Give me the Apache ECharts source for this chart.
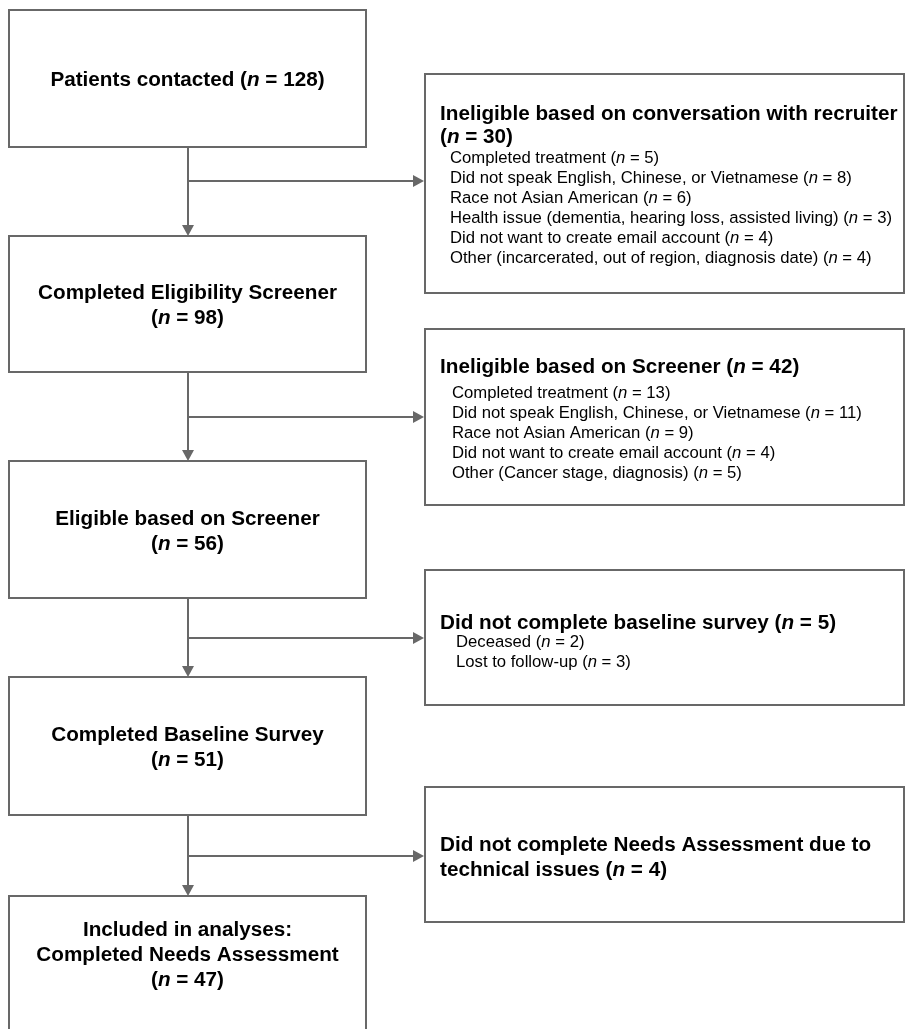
<!DOCTYPE html>
<html>
<head>
<meta charset="utf-8">
<script src="https://cdn.jsdelivr.net/npm/echarts@6/dist/echarts.min.js"></script>
<style>
html, body { margin: 0; background: #fff; }
#flow { width: 905px; height: 1029px; }
</style>
</head>
<body>
<div id="flow"></div>
<script>
// main flow (left column)
const stageLabels = [
  ['Patients contacted'],
  ['Completed Eligibility Screener'],
  ['Eligible based on Screener'],
  ['Completed Baseline Survey'],
  ['Included in analyses:', 'Completed Needs Assessment']
];
const stageCounts = [128, 98, 56, 51, 47];

// exclusions (right column)
const exitLabels = [
  ['Ineligible based on conversation with recruiter'],
  ['Ineligible based on Screener'],
  ['Did not complete baseline survey'],
  ['Did not complete Needs Assessment due to', 'technical issues']
];
const exitCounts = [30, 42, 5, 4];
const exitReasons = [
  ['Completed treatment', 'Did not speak English, Chinese, or Vietnamese', 'Race not Asian American',
   'Health issue (dementia, hearing loss, assisted living)', 'Did not want to create email account',
   'Other (incarcerated, out of region, diagnosis date)'],
  ['Completed treatment', 'Did not speak English, Chinese, or Vietnamese', 'Race not Asian American',
   'Did not want to create email account', 'Other (Cancer stage, diagnosis)'],
  ['Deceased', 'Lost to follow-up'],
  []
];
const exitReasonCounts = [
  [5, 8, 6, 3, 4, 4],
  [13, 11, 9, 4, 5],
  [2, 3],
  []
];

// layout (pixel units of the hidden axes)
const leftX = [9, 366], rightX = [425, 904], spineX = 188;
const stageBox = [[10, 147], [236, 372], [461, 598], [677, 815], [896, 1040]];
const stageTextY = [80, 293, 519, 735, 930];
const stageCountOwnLine = [false, true, true, true, true];
const exitBox = [[74, 293], [329, 505], [570, 705], [787, 922]];
const exitTextY = [114, 367, 623, 845];
const exitLineGap = [23, 25, 25, 25];
const exitCountOwnLine = [true, false, false, false];
const exitBranchY = [181, 417, 638, 856];
const reasonX = [450, 452, 456, 450];
const reasonY0 = [158, 393, 642, 0];

const FONT = '"Liberation Sans", Arial, Helvetica, sans-serif';
const LINE = '#686868';
const INK = '#111';
const rich = {
  b: { fontSize: 20.7, fontWeight: 'bold', fontFamily: FONT, color: INK },
  bi: { fontSize: 20.7, fontWeight: 'bold', fontStyle: 'italic', fontFamily: FONT, color: INK },
  r: { fontSize: 16.7, fontFamily: FONT, color: INK },
  ri: { fontSize: 16.7, fontStyle: 'italic', fontFamily: FONT, color: INK }
};

function nRich(prefix, n, bold) {
  const a = bold ? 'b' : 'r', i = bold ? 'bi' : 'ri';
  return '{' + a + '|' + prefix + '(}{' + i + '|n}{' + a + '| = ' + n + ')}';
}

function textEl(api, x, y, text, align) {
  const p = api.coord([x, y]);
  return {
    type: 'text', x: p[0], y: p[1],
    style: { text: text, rich: rich, align: align, verticalAlign: 'middle' }
  };
}

function rectEl(api, x0, y0, x1, y1) {
  const a = api.coord([x0, y0]), b = api.coord([x1, y1]);
  return {
    type: 'rect',
    shape: { x: a[0], y: a[1], width: b[0] - a[0], height: b[1] - a[1] },
    style: { fill: '#fff', stroke: LINE, lineWidth: 2 }
  };
}

function arrowEl(api, x0, y0, x1, y1) {
  const a = api.coord([x0, y0]), b = api.coord([x1, y1]);
  const dx = b[0] - a[0], dy = b[1] - a[1];
  const len = Math.sqrt(dx * dx + dy * dy), ux = dx / len, uy = dy / len;
  const hl = 11, hw = 6;
  const bx = b[0] - ux * hl, by = b[1] - uy * hl;
  return {
    type: 'group',
    children: [
      { type: 'line', shape: { x1: a[0], y1: a[1], x2: bx, y2: by }, style: { stroke: LINE, lineWidth: 2 } },
      { type: 'polygon', shape: { points: [[b[0], b[1]], [bx - uy * hw, by + ux * hw], [bx + uy * hw, by - ux * hw]] },
        style: { fill: LINE } }
    ]
  };
}

function renderStage(params, api) {
  const i = api.value(0);
  const lines = stageLabels[i];
  const cx = (leftX[0] + leftX[1]) / 2;
  const children = [rectEl(api, leftX[0], stageBox[i][0], leftX[1], stageBox[i][1])];
  const rows = lines.map(function (t) { return '{b|' + t + '}'; });
  if (stageCountOwnLine[i]) rows.push(nRich('', stageCounts[i], true));
  else rows[rows.length - 1] = nRich(lines[lines.length - 1] + ' ', stageCounts[i], true);
  rows.forEach(function (t, k) { children.push(textEl(api, cx, stageTextY[i] + k * 25, t, 'center')); });
  return { type: 'group', children: children };
}

function renderExit(params, api) {
  const i = api.value(0);
  const lines = exitLabels[i];
  const children = [rectEl(api, rightX[0], exitBox[i][0], rightX[1], exitBox[i][1])];
  const rows = lines.map(function (t) { return '{b|' + t + '}'; });
  if (exitCountOwnLine[i]) rows.push(nRich('', exitCounts[i], true));
  else rows[rows.length - 1] = nRich(lines[lines.length - 1] + ' ', exitCounts[i], true);
  rows.forEach(function (t, k) { children.push(textEl(api, 440, exitTextY[i] + k * exitLineGap[i], t, 'left')); });
  exitReasons[i].forEach(function (r, k) {
    children.push(textEl(api, reasonX[i], reasonY0[i] + k * 20, nRich(r + ' ', exitReasonCounts[i][k], false), 'left'));
  });
  return { type: 'group', children: children };
}

function renderLinks(params, api) {
  const i = api.value(0);
  return {
    type: 'group',
    children: [
      arrowEl(api, spineX, stageBox[i][1], spineX, stageBox[i + 1][0]),
      arrowEl(api, spineX, exitBranchY[i], rightX[0] - 1, exitBranchY[i])
    ]
  };
}

const chart = echarts.init(document.getElementById('flow'));
chart.setOption({
  backgroundColor: '#fff',
  animation: false,
  grid: { left: 0, right: 0, top: 0, bottom: 0 },
  xAxis: { type: 'value', min: 0, max: 905, show: false },
  yAxis: { type: 'value', min: 0, max: 1029, inverse: true, show: false },
  series: [
    { type: 'custom', renderItem: renderLinks, data: exitCounts.map(function (v, i) { return [i]; }), silent: true },
    { type: 'custom', renderItem: renderStage, data: stageCounts.map(function (v, i) { return [i]; }), silent: true },
    { type: 'custom', renderItem: renderExit, data: exitCounts.map(function (v, i) { return [i]; }), silent: true }
  ]
});
window.addEventListener('resize', function () { chart.resize(); });
</script>
</body>
</html>
